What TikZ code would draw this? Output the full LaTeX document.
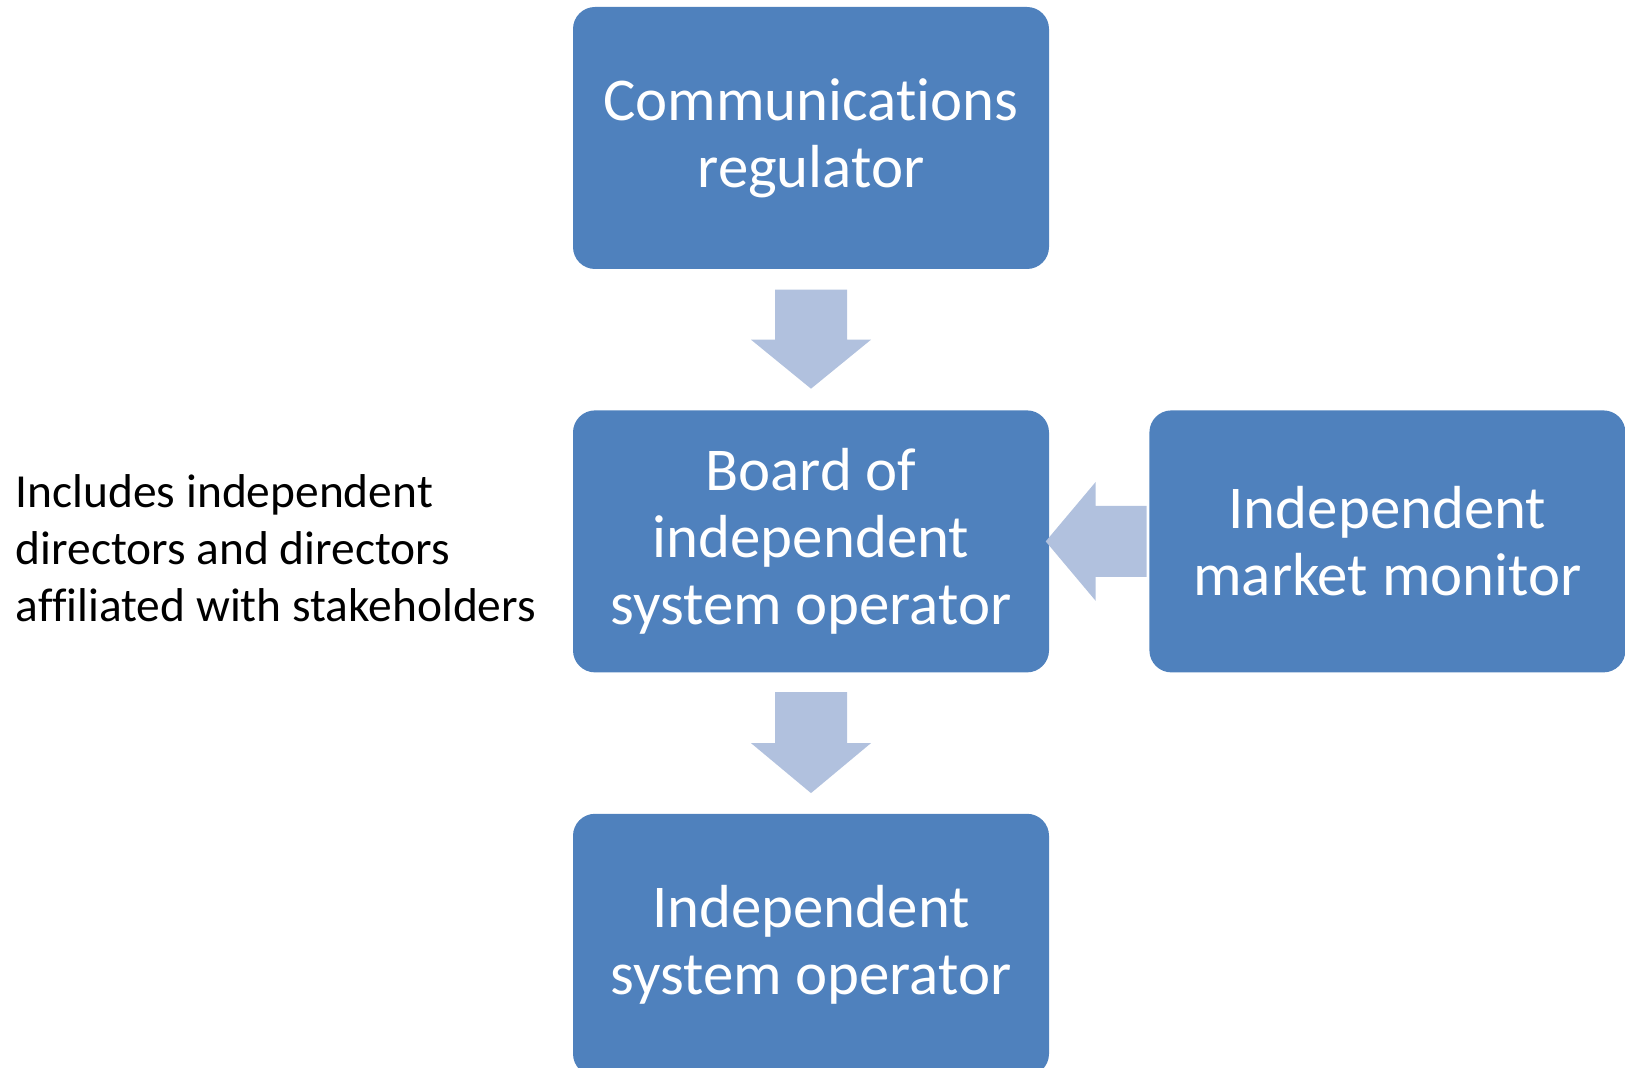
\documentclass[tikz,border=0pt]{standalone}
\usepackage{fontspec}
\setmainfont[Ligatures=NoCommon]{Carlito}
\usetikzlibrary{positioning,calc}

\definecolor{boxblue}{RGB}{79,129,189}
\definecolor{arrowblue}{RGB}{177,193,222}

\tikzset{
  block/.style={rectangle, rounded corners=0.22cm, fill=boxblue, text=white,
    minimum width=4.76cm, minimum height=2.62cm, inner sep=0pt, align=center,
    font=\fontsize{17.3}{19.1}\selectfont},
  note/.style={align=left, inner sep=0pt, font=\fontsize{13.5}{16.2}\selectfont},
  arrowfill/.style={fill=arrowblue}
}

\begin{document}
\begin{tikzpicture}
\useasboundingbox (0,0) rectangle (16.25,10.68);

% The boxes
\node[block] (reg) at (8.11, 9.30) {Communications\\regulator};
\node[block, below=1.40cm of reg] (board) {Board of\\independent\\system operator};
\node[block, right=0.99cm of board] (monitor) {Independent\\market monitor};
\node[block, below=1.40cm of board] (iso) {Independent\\system operator};

% The note on the left
\node[note, anchor=west] (members) at (0.15, 5.20) {Includes independent\\directors and directors\\affiliated with stakeholders};

% Arrow down to the board
\fill[arrowfill] ($(reg.south)+(-0.36,-0.20)$) -- ($(reg.south)+(0.36,-0.20)$)
  -- ($(reg.south)+(0.36,-0.70)$) -- ($(reg.south)+(0.60,-0.70)$)
  -- ($(board.north)+(0,0.21)$)
  -- ($(reg.south)+(-0.60,-0.70)$) -- ($(reg.south)+(-0.36,-0.70)$) -- cycle;

% Arrow down to the operator
\fill[arrowfill] ($(board.south)+(-0.36,-0.19)$) -- ($(board.south)+(0.36,-0.19)$)
  -- ($(board.south)+(0.36,-0.70)$) -- ($(board.south)+(0.60,-0.70)$)
  -- ($(iso.north)+(0,0.20)$)
  -- ($(board.south)+(-0.60,-0.70)$) -- ($(board.south)+(-0.36,-0.70)$) -- cycle;

% Arrow from the monitor to the board
\fill[arrowfill] ($(monitor.west)+(-0.02,0.355)$) -- ($(monitor.west)+(-0.53,0.355)$)
  -- ($(monitor.west)+(-0.53,0.595)$) -- ($(board.east)+(-0.04,0)$)
  -- ($(monitor.west)+(-0.53,-0.595)$) -- ($(monitor.west)+(-0.53,-0.355)$)
  -- ($(monitor.west)+(-0.02,-0.355)$) -- cycle;

\end{tikzpicture}
\end{document}
